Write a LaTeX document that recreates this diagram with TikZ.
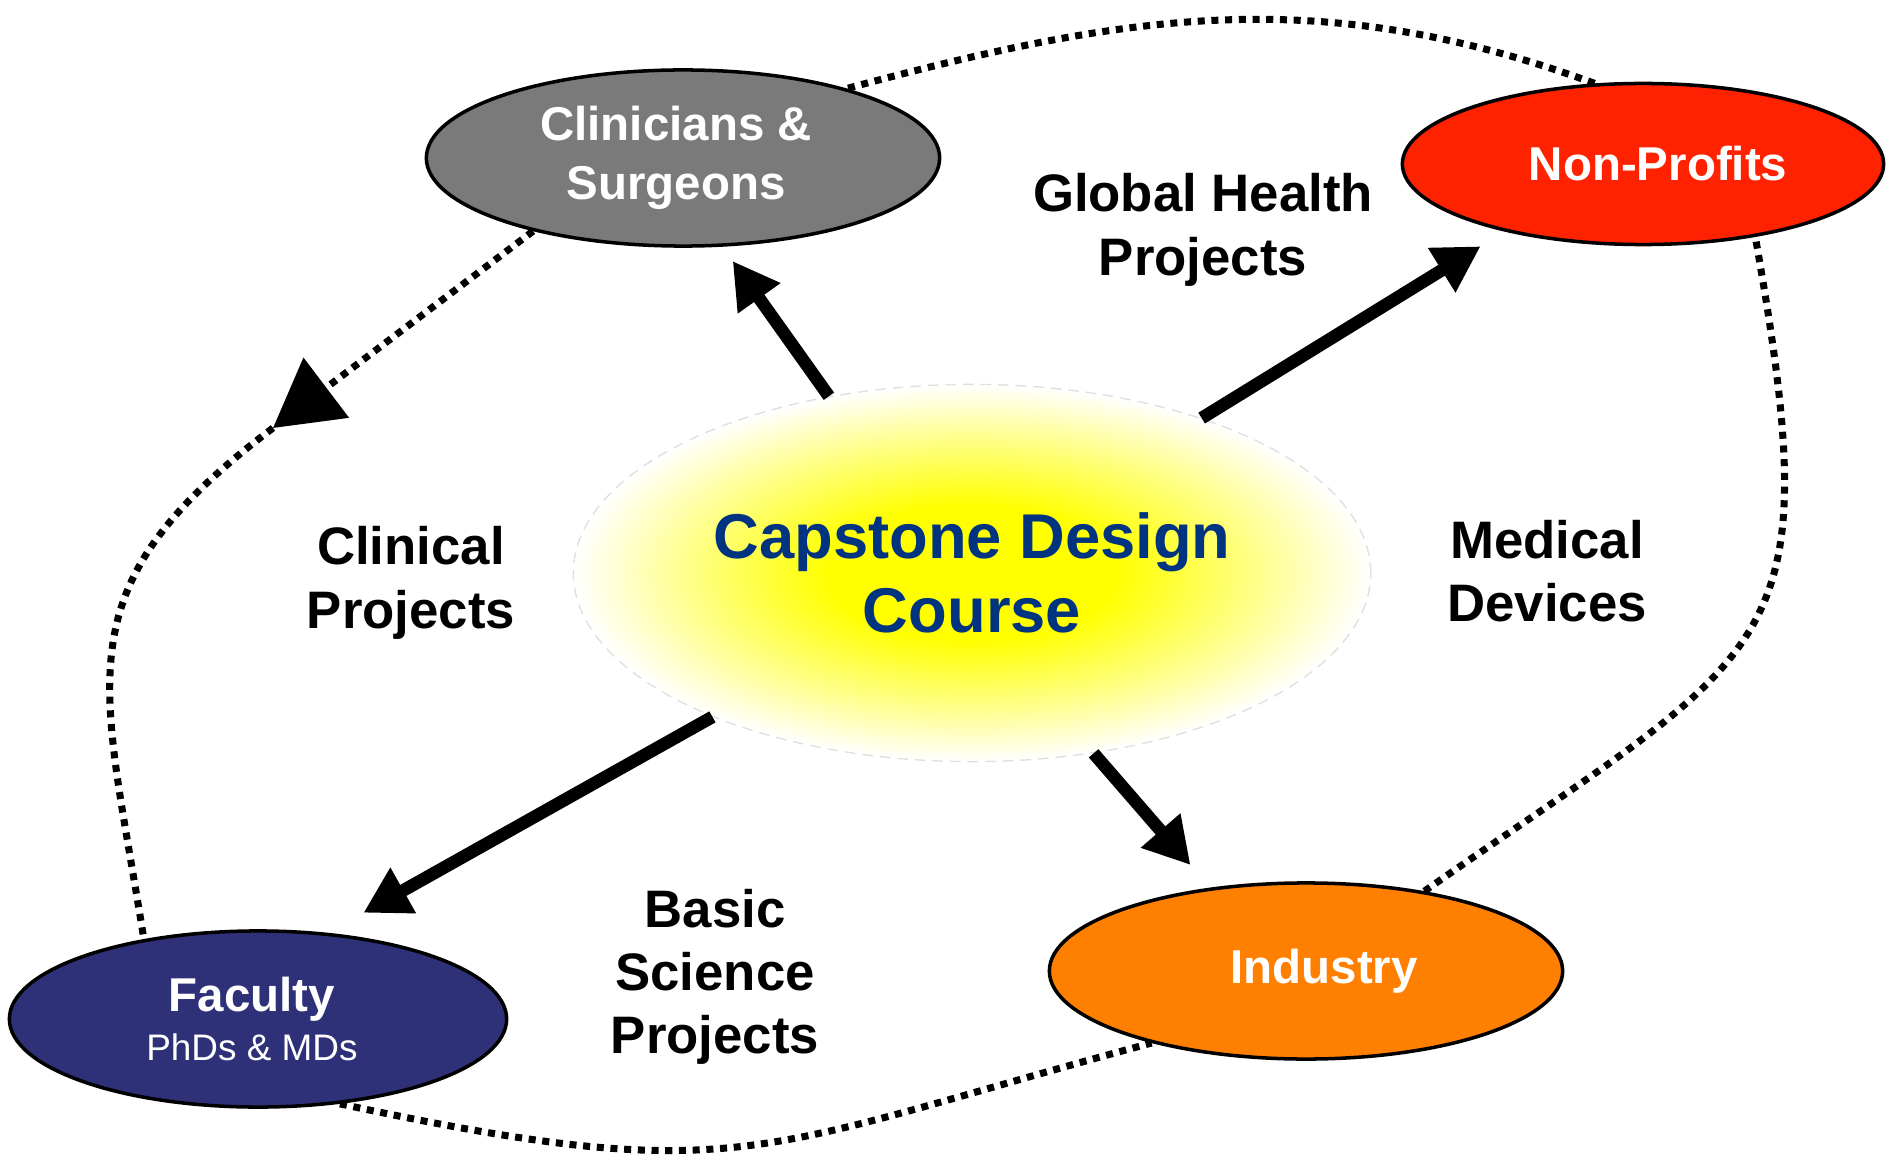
\documentclass[tikz,border=0pt]{standalone}
\usepackage{fontspec}
\setmainfont{Liberation Sans}
\usetikzlibrary{shapes,arrows.meta,positioning,calc}
\definecolor{klingray}{RGB}{122,122,122}
\definecolor{ngored}{RGB}{255,34,0}
\definecolor{indorange}{RGB}{255,127,0}
\definecolor{facnavy}{RGB}{46,49,120}
\definecolor{capblue}{RGB}{0,51,128}
\pgfdeclareradialshading{glow}{\pgfpoint{0bp}{0bp}}{color(0bp)=(yellow); color(9bp)=(yellow); color(18bp)=(yellow!45!white); color(25bp)=(white); color(50bp)=(white)}
\tikzset{
  %Define style for the partner ellipses
  partner/.style={
    ellipse,
    draw=black, line width=1pt,
    inner sep=0pt,
    text=white,
    minimum width=5.13cm,
    minimum height=1.76cm,
    font=\fontsize{13.5}{16.7}\selectfont\bfseries,
    align=center},
  % Define thick arrow style
  tyk/.style={
    -{Triangle[length=13pt,width=14pt]},
    line width=3.6pt},
  % Define dotted ring style
  prikket/.style={
    line width=2pt,
    dash pattern=on 2pt off 1.9pt},
  % Define style for project labels
  etiket/.style={
    font=\fontsize{15}{18}\selectfont\bfseries,
    align=center}
}
\begin{document}
\begin{tikzpicture}[x=0.01cm,y=-0.01cm]
  \useasboundingbox (0,0) rectangle (1894,1161);
  % centre
  \node[ellipse, shading=glow, draw=black!12, densely dashed, line width=0.4pt,
        inner sep=0pt, minimum width=7.97cm, minimum height=3.77cm,
        text=capblue, font=\fontsize{18}{21}\selectfont\bfseries, align=center]
        (capstone) at (972,573) {Capstone Design\\Course};
  % partners
  \node[partner, fill=klingray] (clin) at (683,158) {Clinicians \&\kern0.14cm\\Surgeons\kern0.14cm};
  \node[partner, fill=ngored, minimum width=4.81cm, minimum height=1.61cm] (nonprofit) at (1643,164) {\hspace{0.3cm}Non-Profits};
  \node[partner, fill=facnavy, minimum width=4.97cm] (faculty) at (258,1019)
        {Faculty\kern0.12cm\\[-3pt]{\fontsize{10.5}{12.6}\selectfont\mdseries PhDs \& MDs}\kern0.12cm};
  \node[partner, fill=indorange] (industry) at (1306,971) {\hspace{0.36cm}Industry};
  % project labels
  \node[etiket] (global) at (1203,230) {Global Health\\Projects};
  \node[etiket] (clinical) at (411,583) {Clinical\\Projects};
  \node[etiket] (devices) at (1547,571) {Medical\\Devices};
  \node[etiket] (basic) at (715,977) {Basic\\Science\\Projects};
  % arrows out of the course
  \draw[tyk, shorten >=5pt] (capstone.129) -- (clin.-66);
  \draw[tyk, shorten >=8pt] (capstone.34) -- (nonprofit.206);
  \draw[tyk, shorten >=11.6pt] (capstone.209) -- (faculty.51);
  \draw[tyk, shorten >=8.5pt] (capstone.-56) -- (industry.139);
  % dotted ring
  \coordinate (kink) at (273,428);
  \draw[prikket, -{Triangle[length=19pt,width=21pt]}] (clin.206) -- (kink);
  \draw[prikket] (kink) to[out=217, in=99, looseness=1.3] (faculty.145);
  \draw[prikket] (faculty.-46) to[out=-12, in=195, looseness=1.3] (industry.205);
  \draw[prikket] (industry.34) to[out=35, in=-80, looseness=1.5] (nonprofit.-33);
  \draw[prikket] (nonprofit.121) to[out=160, in=15] (clin.23);
\end{tikzpicture}
\end{document}
